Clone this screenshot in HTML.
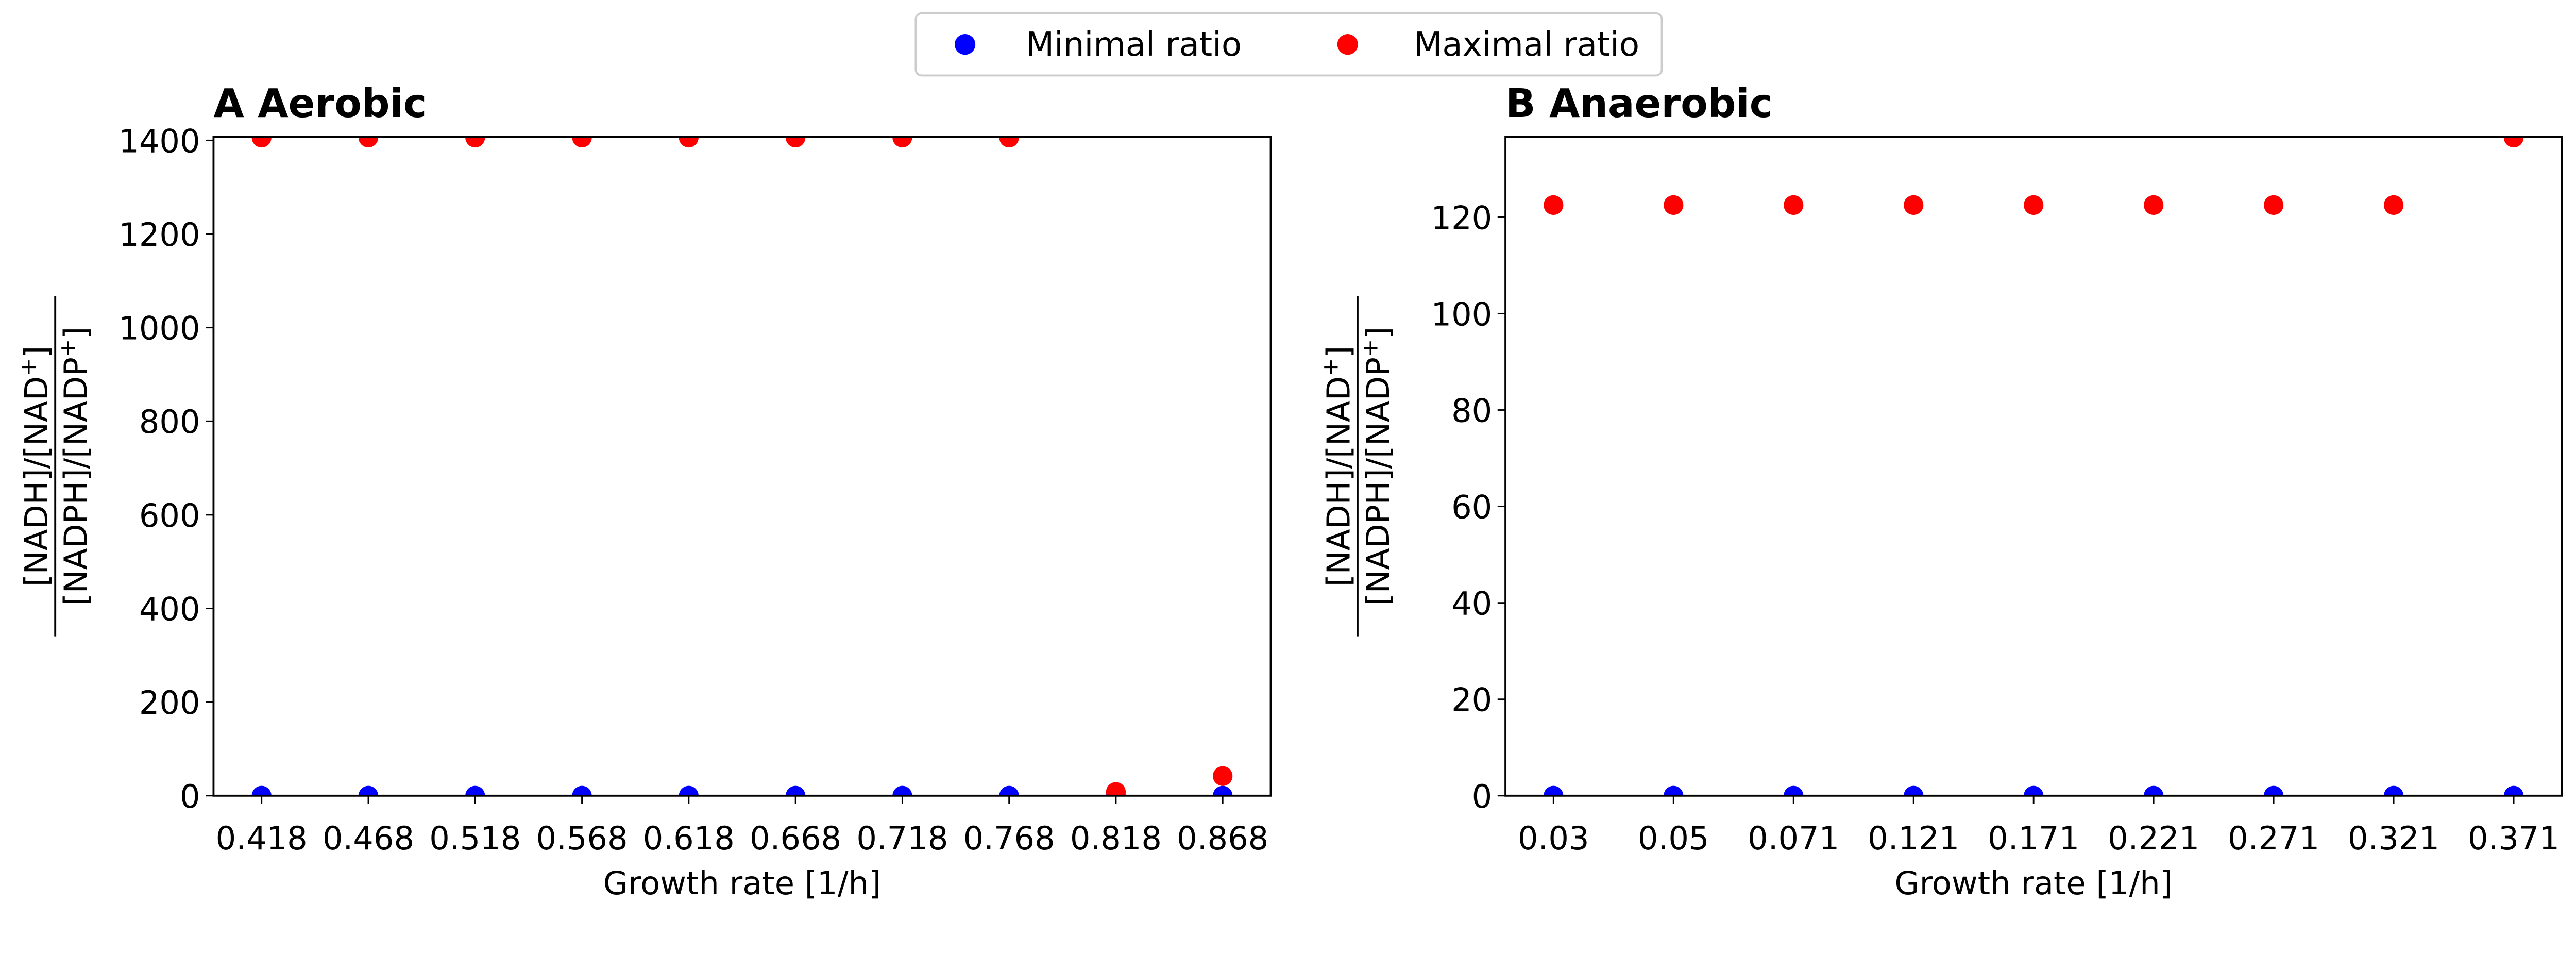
<!DOCTYPE html>
<html><head><meta charset="utf-8"><style>html,body{margin:0;padding:0;background:#fff;overflow:hidden}svg{display:block;width:100vw;height:calc(100vw * 1849 / 5224)}</style></head>
<body>
<svg id="fig" viewBox="0 0 5224 1849" preserveAspectRatio="none" xmlns="http://www.w3.org/2000/svg" font-family="'DejaVu Sans','Liberation Sans',sans-serif">
<g>
<rect x="1857" y="27" width="1513" height="126" rx="12" fill="#fff" stroke="#ccc" stroke-width="4"/>
<circle cx="1957" cy="90" r="21" fill="#0000ff"/>
<text x="2080" y="113" font-size="67">Minimal ratio</text>
<circle cx="2733" cy="90" r="21" fill="#ff0000"/>
<text x="2867" y="113" font-size="67">Maximal ratio</text>
</g>
<g id="pa"></g>
<g id="pb"></g>
</svg>
<script>
const catsA = ["0.418","0.468","0.518","0.568","0.618","0.668","0.718","0.768","0.818","0.868"];
const minA = [0,0,0,0,0,0,0,0,0,0];
const maxA = [1406,1406,1406,1406,1406,1406,1406,1406,8,42];
const yTicksA = [0,200,400,600,800,1000,1200,1400];
const catsB = ["0.03","0.05","0.071","0.121","0.171","0.221","0.271","0.321","0.371"];
const minB = [0,0,0,0,0,0,0,0,0];
const maxB = [122.5,122.5,122.5,122.5,122.5,122.5,122.5,122.5,136.5];
const yTicksB = [0,20,40,60,80,100,120];
const NS="http://www.w3.org/2000/svg";
function mk(tag,attrs,parent){const e=document.createElementNS(NS,tag);for(const k in attrs)e.setAttribute(k,attrs[k]);parent.appendChild(e);return e;}
function panel(g,o){
  const {x0,x1,y0,y1,cats,mins,maxs,ticks,ymax,xpad,title}=o;
  const n=cats.length;
  const xs=i=>x0+(i+xpad)/(n-1+2*xpad)*(x1-x0);
  const ys=v=>y1-v/ymax*(y1-y0);
  const cp='clip'+title.replace(/\s/g,'');
  const defs=mk('defs',{},g);const c=mk('clipPath',{id:cp},defs);mk('rect',{x:x0,y:y0,width:x1-x0,height:y1-y0},c);
  const t=mk('text',{x:x0,y:237,'font-size':80,'font-weight':'bold'},g);t.textContent=title;
  
  
  ticks.forEach(v=>{
    const l=mk('line',{x1:x0-16,x2:x0,y1:ys(v),y2:ys(v),stroke:'#000','stroke-width':3},g);
    
    
    const tx=mk('text',{x:x0-27,y:ys(v)+24,'font-size':65,'text-anchor':'end'},g);tx.textContent=v;
    
    
  });
  cats.forEach((cname,i)=>{
    const l=mk('line',{x1:xs(i),x2:xs(i),y1:y1,y2:y1+16,stroke:'#000','stroke-width':3},g);
    
    
    const tx=mk('text',{x:xs(i),y:1722,'font-size':65,'text-anchor':'middle'},g);tx.textContent=cname;
    
    
  });
  const pts=mk('g',{'clip-path':'url(#'+cp+')'},g);
  mins.forEach((v,i)=>{
    const p=mk('circle',{cx:xs(i),cy:ys(v),r:20,fill:'#0000ff'},pts);
    
    
  });
  maxs.forEach((v,i)=>{
    const p=mk('circle',{cx:xs(i),cy:ys(v),r:20,fill:'#ff0000'},pts);
    
    
  });
  const fr=mk('rect',{x:x0,y:y0,width:x1-x0,height:y1-y0,fill:'none',stroke:'#000','stroke-width':4},g);
  
  
  const xl=mk('text',{x:(x0+x1)/2,y:1813,'font-size':65,'text-anchor':'middle'},g);xl.textContent='Growth rate [1/h]';
  
  
  const lx=o.labx, cy=945;
  const yl=mk('g',{transform:`translate(${lx},${cy}) rotate(-90)`},g);
  
  
  const a=mk('text',{x:0,y:-16,'font-size':64,'text-anchor':'middle'},yl);
  a.innerHTML='[NADH]/[NAD<tspan dy="-24" font-size="44">+</tspan><tspan dy="24">]</tspan>';
  mk('line',{x1:-345,x2:345,y1:0,y2:0,stroke:'#000','stroke-width':4},yl);
  const b=mk('text',{x:0,y:64,'font-size':64,'text-anchor':'middle'},yl);
  b.innerHTML='[NADPH]/[NADP<tspan dy="-24" font-size="44">+</tspan><tspan dy="24">]</tspan>';
}
panel(document.getElementById('pa'),{x0:433,x1:2577,y0:277,y1:1613,cats:catsA,mins:minA,maxs:maxA,ticks:yTicksA,ymax:1408,xpad:0.45,title:'A Aerobic',labx:112});
panel(document.getElementById('pb'),{x0:3053,x1:5195,y0:277,y1:1613,cats:catsB,mins:minB,maxs:maxB,ticks:yTicksB,ymax:136.7,xpad:0.4,title:'B Anaerobic',labx:2753});
</script>
</body></html>
